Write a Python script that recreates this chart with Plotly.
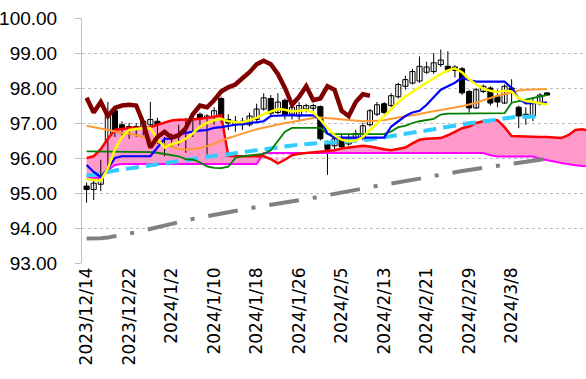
import plotly.graph_objects as go

# ---------------- data ----------------
tick_labels = ["2023/12/14", "2023/12/22", "2024/1/2", "2024/1/10", "2024/1/18",
               "2024/1/26", "2024/2/5", "2024/2/13", "2024/2/21", "2024/2/29", "2024/3/8"]

opens = [95.20, 95.10, 95.25, 95.80, 97.35, 96.95, 96.70, 96.90, 96.75, 96.95,
         97.05, 96.50, 96.60, 96.45, 96.90, 96.70, 97.25, 96.65, 97.05, 97.70,
         97.10, 96.95, 97.05, 96.95, 97.10, 97.40, 97.70, 97.30, 97.65, 97.25,
         97.20, 97.40, 97.42, 97.47, 96.40, 96.35, 96.58, 96.40, 96.55, 96.58,
         96.95, 97.25, 97.55, 97.50, 97.75, 98.05, 98.14, 98.20, 98.45, 98.47,
         98.67, 98.62, 98.60, 98.55, 97.90, 97.43, 97.90, 98.00, 97.75, 97.57,
         98.00, 97.45, 97.25, 97.20, 97.55, 97.86]
highs = [95.30, 95.35, 95.95, 97.60, 97.50, 97.05, 97.00, 97.00, 97.10, 97.60,
         97.15, 96.60, 96.70, 96.95, 97.15, 97.20, 97.30, 97.25, 97.45, 97.75,
         97.25, 97.20, 97.15, 97.30, 97.55, 97.85, 97.80, 97.85, 97.70, 97.50,
         97.60, 97.55, 97.55, 97.50, 96.50, 96.65, 96.70, 96.70, 96.80, 97.00,
         97.40, 97.60, 97.60, 97.85, 98.15, 98.35, 98.55, 98.90, 98.75, 99.00,
         99.10, 99.05, 98.65, 98.60, 97.95, 98.00, 98.10, 98.05, 97.95, 98.10,
         98.25, 97.50, 97.45, 97.70, 97.85, 97.88]
lows = [94.72, 94.80, 95.05, 95.70, 96.60, 96.55, 96.55, 96.60, 96.65, 96.90,
        96.40, 96.05, 96.30, 96.35, 96.15, 96.60, 96.85, 96.10, 96.95, 97.00,
        96.80, 96.75, 96.80, 96.90, 97.05, 97.35, 97.20, 97.25, 97.10, 97.10,
        97.05, 97.30, 97.35, 96.50, 95.52, 96.25, 96.25, 96.35, 96.45, 96.50,
        96.90, 97.20, 97.25, 97.45, 97.70, 97.95, 98.10, 98.15, 98.40, 98.40,
        98.60, 98.45, 98.30, 97.80, 97.30, 97.40, 97.85, 97.50, 97.45, 97.55,
        97.55, 96.85, 96.95, 97.05, 97.50, 97.78]
closes = [95.10, 95.28, 95.80, 97.30, 96.80, 96.75, 96.90, 96.70, 97.05, 97.10,
          96.50, 96.15, 96.45, 96.85, 96.70, 97.10, 96.95, 97.20, 97.35, 97.10,
          97.00, 97.05, 96.95, 97.20, 97.40, 97.72, 97.28, 97.60, 97.22, 97.45,
          97.50, 97.50, 97.50, 96.55, 96.25, 96.55, 96.32, 96.58, 96.70, 96.92,
          97.35, 97.52, 97.30, 97.78, 98.10, 98.24, 98.47, 98.62, 98.60, 98.72,
          98.80, 98.52, 98.50, 97.86, 97.43, 97.95, 98.05, 97.57, 97.60, 98.05,
          97.95, 97.20, 97.20, 97.60, 97.80, 97.80]

# conversion line (yellow)
yellow = [95.40, 95.38, 95.35, 95.70, 96.25, 96.60, 96.80, 96.83, 96.86, 96.85,
          96.55, 96.30, 96.40, 96.45, 96.55, 96.70, 96.90, 97.00, 97.08, 97.12,
          97.05, 97.03, 97.02, 97.08, 97.15, 97.25, 97.32, 97.40, 97.38, 97.33,
          97.35, 97.37, 97.30, 97.10, 96.85, 96.65, 96.52, 96.48, 96.50, 96.60,
          96.80, 96.98, 97.20, 97.40, 97.60, 97.76, 97.90, 98.02, 98.15, 98.28,
          98.40, 98.50, 98.56, 98.45, 98.25, 98.10, 97.98, 97.92, 97.88, 97.92,
          97.90, 97.70, 97.63, 97.60, 97.57, 97.53]
# blue line
blue = [95.80, 95.60, 95.45, 95.70, 96.00, 96.05, 96.05, 96.05, 96.05, 96.05,
        96.30, 96.55, 96.55, 96.65, 96.72, 96.76, 96.78, 96.80, 96.86, 96.88,
        96.92, 96.95, 96.97, 97.00, 97.02, 97.05, 97.20, 97.22, 97.22, 97.22,
        97.22, 97.22, 97.22, 97.10, 96.70, 96.58, 96.58, 96.58, 96.58, 96.58,
        96.58, 96.58, 96.58, 96.90, 97.05, 97.20, 97.30, 97.35, 97.52, 97.72,
        97.95, 98.05, 98.15, 98.30, 98.22, 98.18, 98.18, 98.18, 98.18, 98.18,
        98.00, 97.70, 97.56, 97.56, 97.56, 97.58]
# green line
green = [96.19, 96.19, 96.19, 96.19, 96.19, 96.19, 96.19, 96.19, 96.19, 96.17,
         96.15, 96.12, 96.10, 96.05, 95.97, 95.95, 95.88, 95.76, 95.72, 95.71,
         95.75, 96.00, 96.05, 96.08, 96.10, 96.12, 96.22, 96.50, 96.75, 96.86,
         96.86, 96.86, 96.86, 96.86, 96.68, 96.68, 96.68, 96.68, 96.68, 96.68,
         96.68, 96.68, 96.68, 96.76, 96.88, 96.92, 97.00, 97.05, 97.08, 97.12,
         97.24, 97.27, 97.27, 97.27, 97.27, 97.27, 97.27, 97.27, 97.27, 97.28,
         97.58, 97.62, 97.66, 97.70, 97.75, 97.80]
# orange moving average
orange = [96.92, 96.88, 96.84, 96.80, 96.75, 96.72, 96.70, 96.66, 96.60, 96.52,
          96.45, 96.38, 96.32, 96.26, 96.24, 96.25, 96.28, 96.34, 96.40, 96.50,
          96.57, 96.64, 96.70, 96.76, 96.82, 96.87, 96.92, 96.96, 97.00, 97.03,
          97.07, 97.10, 97.14, 97.16, 97.14, 97.11, 97.09, 97.07, 97.05, 97.05,
          97.05, 97.06, 97.08, 97.12, 97.15, 97.19, 97.22, 97.26, 97.30, 97.33,
          97.36, 97.40, 97.44, 97.48, 97.52, 97.58, 97.65, 97.72, 97.78, 97.82,
          97.88, 97.93, 97.95, 97.96, 97.97, 97.97]
# light blue dashed moving average
light_blue = [95.50, 95.52, 95.55, 95.60, 95.65, 95.68, 95.70, 95.73, 95.76, 95.79,
              95.83, 95.87, 95.90, 95.93, 95.96, 95.98, 96.00, 96.03, 96.06, 96.09,
              96.11, 96.14, 96.17, 96.20, 96.22, 96.24, 96.27, 96.30, 96.33, 96.36,
              96.38, 96.40, 96.42, 96.43, 96.44, 96.45, 96.46, 96.47, 96.49, 96.51,
              96.53, 96.56, 96.59, 96.62, 96.65, 96.69, 96.72, 96.75, 96.78, 96.82,
              96.86, 96.90, 96.93, 96.96, 96.99, 97.02, 97.06, 97.09, 97.12, 97.14,
              97.16, 97.18, 97.18, 97.18, 97.18]
# gray dash-dot moving average
gray = [93.70, 93.70, 93.71, 93.73, 93.76, 93.80, 93.84, 93.88, 93.93, 93.98,
        94.03, 94.08, 94.12, 94.17, 94.21, 94.26, 94.30, 94.34, 94.38, 94.42,
        94.46, 94.50, 94.53, 94.57, 94.60, 94.63, 94.66, 94.69, 94.72, 94.75,
        94.78, 94.82, 94.86, 94.90, 94.94, 94.98, 95.02, 95.06, 95.10, 95.14,
        95.18, 95.21, 95.24, 95.27, 95.30, 95.33, 95.37, 95.41, 95.45, 95.49,
        95.53, 95.57, 95.60, 95.63, 95.66, 95.69, 95.72, 95.75, 95.78, 95.81,
        95.84, 95.87, 95.90, 95.93, 95.96, 95.98]
# leading span 1 (red) and leading span 2 (magenta), extend into the future
span_a = [96.00, 96.05, 96.25, 96.55, 96.80, 96.83, 96.86, 96.86, 96.86, 96.88,
          96.95, 97.00, 97.07, 97.09, 97.09, 97.10, 97.12, 97.14, 97.18, 97.22,
          96.06, 96.05, 96.05, 96.05, 96.05, 96.05, 95.97, 95.85, 95.95, 96.08,
          96.12, 96.14, 96.15, 96.16, 96.18, 96.22, 96.27, 96.30, 96.33, 96.35,
          96.33, 96.28, 96.25, 96.22, 96.26, 96.30, 96.42, 96.52, 96.55, 96.56,
          96.57, 96.65, 96.76, 96.85, 96.90, 97.00, 97.05, 97.08, 97.08, 96.88,
          96.63, 96.62, 96.60, 96.60, 96.60, 96.60, 96.58, 96.57, 96.65, 96.80,
          96.82, 96.78]
span_b = [95.45, 95.42, 95.45, 95.65, 95.80, 95.83, 95.83, 95.83, 95.83, 95.83,
          95.83, 95.83, 95.83, 95.83, 95.83, 95.83, 95.83, 95.83, 95.83, 95.83,
          95.83, 95.83, 95.83, 95.83, 95.83, 96.14, 96.14, 96.14, 96.14, 96.14,
          96.14, 96.14, 96.14, 96.14, 96.14, 96.14, 96.14, 96.14, 96.14, 96.14,
          96.14, 96.14, 96.14, 96.14, 96.14, 96.14, 96.14, 96.14, 96.14, 96.14,
          96.14, 96.14, 96.14, 96.14, 96.14, 96.14, 96.14, 96.08, 96.04, 96.04,
          96.04, 96.04, 96.04, 96.04, 95.98, 95.95, 95.90, 95.86, 95.82, 95.79,
          95.77, 95.76]
# lagging span (dark red)
lagging = [97.72, 97.30, 97.60, 97.20, 97.43, 97.50, 97.52, 97.50, 97.00, 96.30,
           96.60, 96.75, 96.58, 96.65, 96.85, 97.25, 97.50, 97.45, 97.65, 97.90,
           98.02, 98.10, 98.28, 98.45, 98.68, 98.78, 98.68, 98.40, 98.00, 97.52,
           97.75, 98.05, 97.65, 97.70, 98.05, 97.95, 97.35, 97.20, 97.60, 97.82,
           97.78]

# ---------------- figure ----------------
n = len(closes)


def with_crossings(a, b):
    xs, aa, bb = [], [], []
    for i in range(len(a)):
        if i > 0:
            d0 = a[i - 1] - b[i - 1]
            d1 = a[i] - b[i]
            if d0 * d1 < 0:
                t = d0 / (d0 - d1)
                yc = a[i - 1] + t * (a[i] - a[i - 1])
                xs.append(i - 1 + t)
                aa.append(yc)
                bb.append(yc)
        xs.append(i)
        aa.append(a[i])
        bb.append(b[i])
    return xs, aa, bb


cx, ca, cb = with_crossings(span_a, span_b)
upper = [max(p, q) for p, q in zip(ca, cb)]

fig = go.Figure()
# cloud where span A above span B: solid pink
fig.add_trace(go.Scatter(x=cx, y=cb, mode="lines", line=dict(width=0), hoverinfo="skip"))
fig.add_trace(go.Scatter(x=cx, y=upper, mode="lines", line=dict(width=0), fill="tonexty",
                         fillcolor="#FF99CC", hoverinfo="skip"))
# cloud where span B above span A: dotted pattern
fig.add_trace(go.Scatter(x=cx, y=ca, mode="lines", line=dict(width=0), hoverinfo="skip"))
fig.add_trace(go.Scatter(x=cx, y=upper, mode="lines", line=dict(width=0), fill="tonexty",
                         fillcolor="white",
                         fillpattern=dict(shape=".", fgcolor="#FF44CC", bgcolor="white",
                                          size=6, solidity=0.35),
                         hoverinfo="skip"))

# candlesticks: wicks + bodies
wx, wy = [], []
for i in range(n):
    wx += [i, i, None]
    wy += [lows[i], highs[i], None]
fig.add_trace(go.Scatter(x=wx, y=wy, mode="lines", line=dict(color="black", width=1),
                         hoverinfo="skip"))
for up in (True, False):
    idx = [i for i in range(n) if (closes[i] >= opens[i]) == up]
    fig.add_trace(go.Bar(
        x=idx,
        base=[min(opens[i], closes[i]) for i in idx],
        y=[max(abs(closes[i] - opens[i]), 0.03) for i in idx],
        width=0.72,
        marker=dict(color="white" if up else "black", line=dict(color="black", width=1)),
        hoverinfo="skip"))


def line(y, color, width, dash="solid"):
    fig.add_trace(go.Scatter(x=list(range(len(y))), y=y, mode="lines",
                             line=dict(color=color, width=width, dash=dash),
                             hoverinfo="skip"))


line(span_b, "#FF00FF", 2)
line(span_a, "#FF0000", 2.5)
line(gray, "#808080", 4, "30px,14px,4px,14px")
line(light_blue, "#33CCFF", 4, "13px,7px")
line(green, "#008000", 1.8)
line(orange, "#FF9933", 2)
line(blue, "#0000FF", 2.2)
line(yellow, "#FFFF00", 2.5)
line(lagging, "#800000", 4.5)

fig.update_layout(
    width=586, height=379,
    margin=dict(l=82, r=0, t=18, b=116),
    paper_bgcolor="white", plot_bgcolor="white",
    showlegend=False, barmode="overlay", hovermode=False,
    font=dict(family="Liberation Sans, Arial, sans-serif", color="black"),
)
fig.update_xaxes(
    range=[-0.65, 70.5],
    tickmode="array",
    tickvals=list(range(0, 61, 6)),
    ticktext=tick_labels,
    tickangle=-90,
    tickfont=dict(family="DejaVu Sans", size=17, color="black"),
    showgrid=False, zeroline=False, showline=False, ticks="",
)
fig.update_yaxes(
    range=[93, 100], dtick=1, tickformat=".2f",
    tickfont=dict(family="Liberation Sans", size=19, color="black"),
    showgrid=True, gridcolor="#BFBFBF", griddash="dot", gridwidth=1,
    showline=True, linecolor="#BFBFBF", linewidth=1,
    ticks="outside", ticklen=6, tickcolor="#BFBFBF",
    ticklabelstandoff=14,
    zeroline=False,
)

fig.write_html("out.html", config={"displayModeBar": False},
               post_script="document.body.style.margin='0';document.body.style.overflow='hidden';")
